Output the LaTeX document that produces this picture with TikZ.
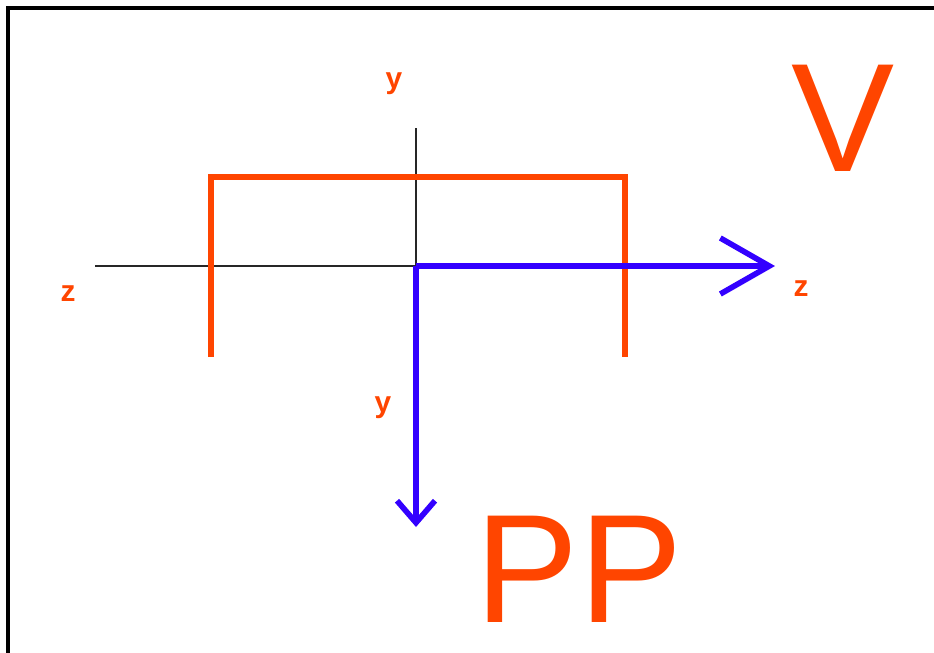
\documentclass[tikz,border=0pt]{standalone}
\usepackage{fontspec}
\setmainfont{Liberation Sans}
\usetikzlibrary{arrows.meta}
\definecolor{lineorange}{RGB}{255,69,0}
\definecolor{axisblue}{RGB}{51,0,255}

\begin{document}
\begin{tikzpicture}[x=0.02cm,y=-0.02cm,
  lbl/.style={text=lineorange,font=\fontsize{17}{17}\selectfont\bfseries,inner sep=0pt},
  bigname/.style={text=lineorange,font=\fontsize{88}{88}\selectfont,inner sep=0pt},
  bracket/.style={draw=lineorange,line width=3.2pt},
  blueaxis/.style={draw=axisblue,line width=3.2pt}]
\useasboundingbox (0,0) rectangle (934,653);
\draw[line width=2pt] (8,653)--(8,8)--(934,8);
% thin reference axes
\coordinate (o) at (416,266); \coordinate (zl) at (95,266); \coordinate (yt) at (416,128);
\draw[black!85,line width=0.8pt] (zl)--(o); \draw[black!85,line width=0.8pt] (yt)--(o);
% bracket
\coordinate (bl) at (211,357); \coordinate (tl) at (211,177); \coordinate (tr) at (625,177); \coordinate (br) at (625,357);
\draw[bracket] (bl)--(tl)--(tr)--(br);
% blue axes
\coordinate (zend) at (775,266); \coordinate (yend) at (416,527);
\draw[blueaxis,-{Straight Barb[length=0.98cm,width=1.12cm]}] (o)--(zend);
\draw[blueaxis,-{Straight Barb[length=0.44cm,width=0.76cm]}] (o)--(yend);
% labels
\node[lbl] (ytop) at (394,84){y}; \node[lbl] (zleft) at (68,294){z};
\node[lbl] (zright) at (801,289){z}; \node[lbl] (ybot) at (383,408){y};
\node[bigname] (vname) at (843,118){V}; \node[bigname] (ppname) at (579,569){PP};
\end{tikzpicture}
\end{document}
